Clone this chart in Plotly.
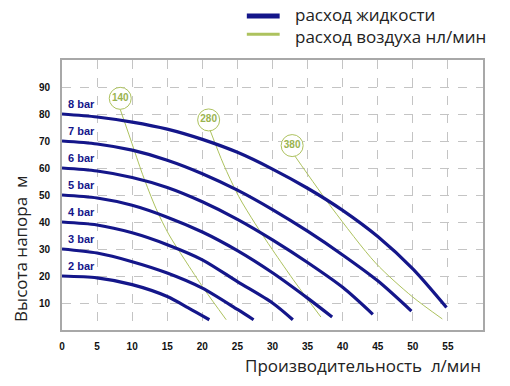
import plotly.graph_objects as go

# ---- data ----
bar_labels = ["2 bar", "3 bar", "4 bar", "5 bar", "6 bar", "7 bar", "8 bar"]
x_2bar = [0, 5, 10, 15, 18, 21.0]
y_2bar = [20, 19.3, 16.8, 12.4, 8.2, 3.8]
x_3bar = [0, 5, 10, 15, 20, 25, 27.3]
y_3bar = [30, 28.5, 25.3, 21.1, 15.5, 7.6, 3.8]
x_4bar = [0, 5, 10, 15, 20, 25, 30, 32.9]
y_4bar = [40, 38.9, 36.0, 31.6, 26.0, 17.9, 10.0, 3.8]
x_5bar = [0, 5, 10, 15, 20, 25, 30, 35, 38.5]
y_5bar = [50, 48.9, 46.2, 41.8, 36.3, 29.4, 21.2, 11.8, 4.8]
x_6bar = [0, 5, 10, 15, 20, 25, 30, 35, 40, 44.3]
y_6bar = [60, 58.9, 56.5, 52.8, 47.5, 41.0, 33.4, 25.0, 15.8, 5.8]
x_7bar = [0, 5, 10, 15, 20, 25, 30, 35, 40, 45, 49.8]
y_7bar = [70, 68.9, 66.6, 62.9, 57.9, 51.8, 44.6, 36.6, 27.8, 18.2, 7.0]
x_8bar = [0, 5, 10, 15, 20, 25, 30, 35, 40, 45, 50, 54.8]
y_8bar = [80, 78.9, 77.0, 74.4, 70.6, 65.8, 59.6, 52.5, 44.3, 34.6, 22.6, 8.3]

air_labels = ["140", "280", "380"]
air_label_x = [8.3, 20.9, 32.8]
air_label_y = [85.8, 77.8, 68.3]
x_air140 = [8.3, 9.8, 11.5, 13.4, 15.2, 17.5, 20.3, 23.4]
y_air140 = [81.7, 70.4, 57.5, 45.0, 35.5, 26.0, 15.0, 3.8]
x_air280 = [21.1, 23.0, 25.2, 27.5, 30.0, 33.3, 36.9]
y_air280 = [74.0, 61.5, 49.4, 39.5, 29.7, 17.4, 4.8]
x_air380 = [33.2, 38.5, 44.7, 49.9, 54.2]
y_air380 = [64.4, 45.1, 24.8, 12.4, 4.1]

x_ticks = [0, 5, 10, 15, 20, 25, 30, 35, 40, 45, 50, 55]
y_ticks = [10, 20, 30, 40, 50, 60, 70, 80, 90]

legend_names = ["расход жидкости", "расход воздуха нл/мин"]

# ---- styling ----
BLUE = "#14168a"
GREEN = "#adc25e"
GREEN_TXT = "#9ab34e"

fig = go.Figure()

liquid = [(x_2bar, y_2bar), (x_3bar, y_3bar), (x_4bar, y_4bar), (x_5bar, y_5bar),
          (x_6bar, y_6bar), (x_7bar, y_7bar), (x_8bar, y_8bar)]
air = [(x_air140, y_air140), (x_air280, y_air280), (x_air380, y_air380)]

for xs, ys in air:
    fig.add_trace(go.Scatter(x=xs, y=ys, mode="lines",
                             line=dict(color=GREEN, width=1, shape="spline", smoothing=0.8),
                             showlegend=False, hoverinfo="skip"))

for xs, ys in liquid:
    fig.add_trace(go.Scatter(x=xs, y=ys, mode="lines",
                             line=dict(color=BLUE, width=3.2, shape="spline", smoothing=0.8),
                             showlegend=False, hoverinfo="skip"))

fig.add_trace(go.Scatter(x=air_label_x, y=air_label_y, mode="markers+text", text=air_labels,
                         textposition="middle center",
                         textfont=dict(family="Arial", size=10, color=GREEN_TXT, weight="bold"),
                         marker=dict(symbol="circle", size=22, color="white",
                                     line=dict(color=GREEN, width=1)),
                         showlegend=False, hoverinfo="skip"))

# legend (drawn manually, outside the plot area)
legend_colors = [BLUE, GREEN]
legend_widths = [5, 3]
legend_y = [1.163, 1.095]
for col, w, ly in zip(legend_colors, legend_widths, legend_y):
    fig.add_shape(type="line", xref="paper", yref="paper", x0=0.439, x1=0.517, y0=ly, y1=ly,
                  line=dict(color=col, width=w))
fig.add_annotation(xref="paper", yref="paper", x=0.551, y=sum(legend_y) / 2 - 0.002,
                   xanchor="left", yanchor="middle", align="left",
                   text="<br>".join(legend_names), showarrow=False, borderpad=0,
                   font=dict(family="Open Sans", size=17, color="#222222"))

# bar labels
for lab, (xs, ys) in zip(bar_labels, liquid):
    fig.add_annotation(x=0.5, y=ys[0] + 3.7, text=lab, showarrow=False, xanchor="left",
                       yanchor="middle",
                       font=dict(family="Arial", size=11, color=BLUE, weight="bold"))

fig.add_annotation(xref="paper", yref="paper", x=1.0, y=-0.13, xanchor="right", yanchor="middle",
                   text="Производительность\u00a0 л/мин", showarrow=False,
                   font=dict(family="Open Sans", size=17, color="#222222"))
fig.add_annotation(xref="paper", yref="paper", x=-0.1, y=0.3, xanchor="center", yanchor="middle",
                   textangle=-90, text="Высота напора\u00a0 м", showarrow=False,
                   font=dict(family="Open Sans", size=17, color="#222222"))

axis_common = dict(showgrid=True, gridcolor="#c4c4c4", griddash="dash", gridwidth=1,
                   showline=True, linecolor="#a8a8a8", linewidth=2, mirror=True,
                   zeroline=False, ticks="",
                   tickfont=dict(family="Arial", size=10, color="#111111", weight="bold"))

fig.update_xaxes(range=[0, 60], tickvals=x_ticks, ticklabelstandoff=6, **axis_common)
fig.update_yaxes(range=[0, 100], tickvals=y_ticks, ticklabelstandoff=8, **axis_common)

fig.update_layout(
    width=510, height=386,
    margin=dict(l=62, r=27, t=60, b=56, autoexpand=False),
    paper_bgcolor="white", plot_bgcolor="white",
    showlegend=False,
)

fig.write_html("out.html",
               config={"displayModeBar": False, "staticPlot": True},
               post_script="document.body.style.margin='0';document.body.style.overflow='hidden';")
